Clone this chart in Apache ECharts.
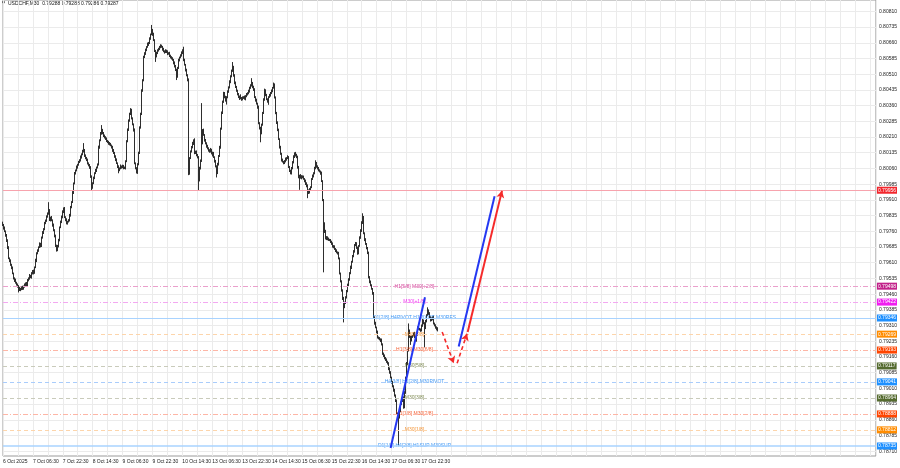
<!DOCTYPE html>
<html><head><meta charset="utf-8">
<script src="https://cdn.jsdelivr.net/npm/echarts@6/dist/echarts.min.js"></script>
<style>html,body{margin:0;padding:0;background:#fff}#c{width:900px;height:468px}</style>
</head><body><div id="c"></div>
<script>
const chartTitle = 'USDCHF,M30  0.79288 0.79288 0.79286 0.79287';
const timeLabels = ['6 Oct 2025','7 Oct 06:30','7 Oct 22:30','8 Oct 14:30','9 Oct 06:30','9 Oct 22:30','10 Oct 14:30','13 Oct 06:30','13 Oct 22:30','14 Oct 14:30','15 Oct 06:30','15 Oct 22:30','16 Oct 14:30','17 Oct 06:30','17 Oct 22:30'];
const priceTicks = [0.80810,0.80735,0.80660,0.80585,0.80510,0.80435,0.80360,0.80285,0.80210,0.80135,0.80060,0.79985,0.79910,0.79835,0.79760,0.79685,0.79610,0.79535,0.79460,0.79385,0.79310,0.79235,0.79160,0.79085,0.79010,0.78935,0.78860,0.78785,0.78710];

// M30 closes in 1e-5 units
const firstOpen = 79800;
const closes = [
79790,79775,79760,79740,79717,79680,79631,79620,79600,79585,
79559,79548,79535,79526,79515,79505,79498,79488,79480,79486,
79492,79485,79497,79505,79511,79502,79518,79526,79535,79548,
79540,79559,79570,79562,79588,79620,79655,79668,79684,79700,
79690,79712,79731,79755,79770,79798,79812,79830,79845,79860,
79813,79825,79813,79790,79765,79735,79703,79690,79669,79690,
79717,79779,79805,79830,79852,79870,79827,79815,79798,79806,
79813,79835,79852,79875,79899,79945,79989,80037,80050,80066,
80078,80090,80099,80115,80128,80140,80147,80135,80120,80110,
80099,80085,80075,80066,80020,79970,79990,80015,80037,80050,
80065,80078,80085,80162,80195,80225,80243,80230,80215,80209,
80200,80192,80186,80181,80175,80170,80162,80152,80145,80133,
80118,80100,80085,80068,80052,80060,80070,80066,80072,80062,
80061,80095,80133,80190,80243,80290,80320,80338,80300,80270,
80243,80085,80060,80042,80080,80133,80257,80320,80386,80430,
80482,80592,80610,80625,80640,80652,80659,80680,80700,80721,
80700,80673,80620,80577,80595,80610,80625,80630,80640,80645,
80640,80628,80620,80616,80622,80615,80608,80611,80600,80596,
80592,80585,80578,80563,80550,80530,80500,80540,80577,80590,
80600,80611,80625,80635,80577,80555,80530,80505,80482,80037,
80110,80140,80162,80180,80195,80133,80140,80125,80120,80114,
80004,80060,80099,80180,80243,80220,80195,80180,80165,80155,
80147,80140,80150,80133,80125,80130,80114,80095,80070,80037,
80080,80120,80162,80250,80324,80380,80420,80400,80385,80372,
80400,80425,80448,80475,80500,80525,80544,80505,80467,80450,
80430,80415,80401,80395,80405,80396,80390,80398,80401,80392,
80405,80412,80420,80430,80445,80455,80467,80450,80435,80420,
80400,80385,80370,80353,80276,80250,80228,80270,80324,80390,
80434,80410,80390,80380,80372,80401,80410,80420,80430,80445,
80458,80400,80324,80280,80243,80200,80162,80130,80099,80092,
80088,80085,80095,80105,80110,80114,80066,80050,80037,80060,
80090,80115,80133,80125,80114,80090,80066,80018,80025,80015,
80022,80018,80010,80000,79989,79975,79956,79945,79960,79970,
79990,80010,80025,80037,80060,80085,80070,80060,80052,80045,
80037,80000,79908,79798,79760,79731,79725,79731,79722,79720,
79717,79710,79700,79690,79684,79675,79668,79660,79655,79630,
79600,79559,79520,79478,79440,79397,79420,79444,79475,79502,
79530,79560,79588,79615,79640,79665,79684,79695,79703,79680,
79655,79690,79730,79765,79800,79827,79750,79720,79700,79680,
79655,79600,79540,79520,79500,79485,79464,79349,79320,79301,
79280,79253,79248,79245,79239,79220,79200,79177,79165,79155,
79145,79138,79129,79105,79085,79062,79040,79020,79000,78975,
78952,78920,78890,78880,78871,78900,78938,78950,78967,78919,
78990,79062,79130,79191,79287,79255,79225,79240,79255,79265,
79272,79255,79239,79270,79301,79295,79290,79287,79310,79335,
79320,79301,79301,79330,79360,79382,79368,79350,79335,79342,
79349,79320,79310,79301,79295,79287];
const upperWick = [
6,5,8,4,7,5,9,4,6,5, 7,4,6,5,8,4,6,5,7,4, 5,8,4,6,5,7,4,6,5,8, 4,6,5,7,4,9,5,6,4,7,
5,8,4,6,5,7,4,6,5,39, 6,5,8,4,7,5,9,4,6,5, 7,4,6,5,8,4,6,5,7,4, 5,8,4,6,5,7,4,6,5,8,
4,6,5,7,4,9,34,6,4,7, 5,8,4,6,5,7,4,6,5,8, 4,6,5,7,4,9,24,6,4,7, 5,8,4,6,5,7,4,6,5,8,
6,5,8,4,7,5,9,4,6,5, 7,4,6,5,8,4,6,10,7,4, 5,8,4,6,5,7,4,6,5,8, 4,6,5,7,4,9,5,6,4,24,
5,8,4,6,5,7,4,6,5,8, 6,5,8,4,7,5,9,4,6,5, 7,4,6,5,8,4,6,5,7,4, 5,8,4,6,5,7,4,6,5,8,
4,6,5,7,4,9,5,6,4,7, 5,8,4,192,5,7,4,6,5,8, 6,5,8,4,7,5,9,4,6,5, 7,4,6,5,8,4,6,5,7,4,
5,8,4,6,5,7,24,6,5,8, 4,6,5,7,4,9,5,6,4,7, 5,8,4,6,5,7,24,6,5,8, 6,5,8,4,7,5,9,4,6,5,
7,4,6,5,8,4,6,5,7,4, 12,8,4,6,5,7,4,6,5,8, 4,6,5,7,4,9,5,6,4,7, 5,8,4,6,5,7,4,6,5,8,
6,5,8,4,7,5,9,4,6,5, 7,4,6,5,8,14,6,5,7,4, 5,8,4,6,5,7,4,6,5,8, 4,6,5,7,4,9,5,6,4,7,
5,8,4,6,5,7,4,6,5,8, 6,5,8,4,7,5,9,4,6,5, 7,4,6,5,8,19,6,5,7,4, 5,8,4,6,5,7,4,6,5,8,
4,6,5,7,4,9,5,6,4,7, 5,8,4,6,5,7,4,6,5,8, 6,5,8,4,7,5,9,4,6,5, 7,4,6,5,33,4,6,5,7,4,
5,8,4,6,5,7,4,6,5,8, 4,6,5,7,4,15,5,6,4,7, 5,8,4,6,5,7];
const lowerWick = [
5,7,4,6,8,5,4,7,5,6, 4,6,5,8,5,4,7,20,5,6, 7,5,4,6,8,5,4,7,5,6, 4,6,5,8,5,4,7,5,6,4,
7,5,4,6,8,5,4,7,5,6, 4,6,5,8,5,4,7,5,6,4, 7,5,4,6,8,5,4,7,5,6, 4,6,5,8,5,4,7,5,6,4,
7,5,4,6,8,5,4,7,5,6, 4,6,5,8,5,14,7,5,6,4, 7,5,4,6,8,5,4,7,5,6, 4,6,5,8,5,4,7,5,6,4,
7,5,4,6,15,5,4,7,5,6, 4,6,5,8,5,4,7,5,6,4, 7,5,4,6,8,5,4,7,5,6, 4,6,5,8,5,4,7,5,6,4,
7,5,4,6,8,5,4,7,5,6, 4,6,5,8,5,4,7,5,6,4, 7,5,4,6,8,5,18,7,5,6, 4,6,5,8,5,4,7,5,6,9,
7,5,4,6,8,5,4,7,5,6, 48,6,5,8,5,4,7,5,6,4, 7,5,4,6,8,5,4,7,5,20, 4,6,5,8,5,4,7,5,6,4,
7,5,4,6,8,5,4,7,5,6, 4,6,5,8,5,4,7,5,6,4, 7,5,4,6,8,5,4,7,5,6, 4,6,5,8,5,4,43,5,6,4,
7,5,4,6,8,5,4,7,5,6, 4,6,5,8,5,4,7,5,6,4, 7,5,4,6,8,5,4,7,5,6, 4,6,5,8,5,4,7,5,60,4,
7,5,4,6,8,5,38,7,5,6, 4,6,5,8,5,4,7,5,6,4, 7,5,4,234,8,5,4,7,5,6, 4,6,5,8,5,4,7,5,6,4,
7,5,4,6,8,72,4,7,5,6, 4,6,5,8,5,4,7,5,6,4, 7,5,4,6,8,5,4,7,5,6, 4,6,5,8,5,4,7,5,6,4,
7,5,4,6,8,5,4,7,5,6, 4,6,5,8,5,4,7,5,6,4, 7,5,4,6,134,5,4,7,5,6, 4,6,5,8,5,4,7,5,6,4,
7,5,4,6,8,5,4,7,5,6, 4,95,5,8,5,4,7,5,6,4, 7,5,4,6,8,5];

const levelPrices = [0.79956,0.79498,0.79422,0.79346,0.79269,0.79193,0.79117,0.79041,0.78964,0.78888,0.78812,0.78735];
const levelNames = ['','H1[5/8] M30[+2/8]','M30[+1/8]','D1[2/8] H4PIVOT H1PIVOT M30RES','M30[7/8]','H1[3/8] M30[6/8]','M30[5/8]','H4[3/8] H1[2/8] M30PIVOT','M30[3/8]','H1[1/8] M30[2/8]','M30[1/8]','D1[1/8] H4[2/8] H1SUP M30SUP'];
const lastPrice = 0.79287;
const levelTextBar = 440.5;
// drawn trend / projection lines: [barIndex, price]
const trendUp = [[414.9,0.78725],[451.7,0.79445]];
const projDown = [[470.1,0.79279],[482.5,0.79130]];
const projUp = [[486.1,0.79130],[496.7,0.79271]];
const projBlue = [[487.8,0.79210],[526.2,0.79927]];
const projRed = [[497.4,0.79279],[534.1,0.79953]];

// styles
const FONT = 'Liberation Sans, Arial, sans-serif';
const FS = 5;
const boxColors = ['#f2262c','#c2228a','#f01ef0','#1e90ff','#ff8c00','#ff4500','#556b2f','#1e90ff','#556b2f','#ff4500','#ff8c00','#1e90ff'];
const lineColors = ['#f7a3ad','#eaa0cc','#f3a8f1','#a9d3ff','#fdd5ab','#fdb6a6','#c9cbbb','#a9ccfb','#c9cbbb','#fdb6a6','#fdd5ab','#a9d3ff'];
const lineTypes = ['solid',[5,2,1,2],[5,2,1,2],'solid',[4,3],[5,2,1,2],[4,3],[4,3],[4,3],[5,2,1,2],[4,3],'solid'];
const lineWidths = [1,1,1,1,1,1,1,1,1,1,1,1.5];
const textColors = ['','#c8157f','#f000f0','#1580f0','#f07800','#f03800','#5a6a20','#1580f0','#5a6a20','#f03800','#f07800','#1580f0'];

const candles = closes.map((c,i)=>{
  const o = i===0 ? firstOpen : closes[i-1];
  const h = Math.max(o,c) + upperWick[i];
  const l = Math.min(o,c) - lowerWick[i];
  return [i, o/1e5, c/1e5, l/1e5, h/1e5];
});

const levelLines = levelPrices.map((p,k)=>({
  yAxis: p,
  lineStyle: {color: lineColors[k], type: lineTypes[k], width: lineWidths[k]},
  label: {show: true, position: 'end', distance: 1, formatter: p.toFixed(5), backgroundColor: boxColors[k], color: '#fff', fontSize: FS, fontFamily: FONT, padding: [1,1,0,1], lineHeight: 6}
}));
levelLines.push({
  yAxis: lastPrice,
  lineStyle: {opacity: 0},
  label: {show: true, position: 'end', distance: 1, formatter: lastPrice.toFixed(5), backgroundColor: '#000', color: '#fff', fontSize: FS, fontFamily: FONT, padding: [1,1,0,1], lineHeight: 6}
});

function seg(pts, color, width, type, arrowEnd) {
  const ls = {color: color, width: width, type: type};
  return [
    {coord: pts[0], symbol: 'none', lineStyle: ls},
    {coord: pts[1], symbol: arrowEnd ? 'arrow' : 'none', symbolSize: [6,7], lineStyle: ls, itemStyle: {color: color}}
  ];
}

const option = {
  animation: false,
  backgroundColor: '#fff',
  grid: {left: 1, right: 23, top: 0, bottom: 12, show: true, borderColor: '#9a9a9a', borderWidth: 1},
  xAxis: {
    type: 'value', min: 0, max: 934.4, interval: 16,
    axisLine: {show: false}, axisTick: {show: false},
    splitLine: {show: true, lineStyle: {color: '#ebebeb', width: 1}},
    axisLabel: {
      show: true, margin: 3, align: 'left', fontSize: FS, fontFamily: FONT, color: '#222',
      formatter: v => (v % 32 === 0 && timeLabels[v/32]) ? timeLabels[v/32] : ''
    }
  },
  yAxis: {
    type: 'value', position: 'right', min: 0.786872, max: 0.808642, scale: true,
    axisLine: {show: false},
    axisTick: {show: false, customValues: priceTicks},
    splitLine: {show: true, lineStyle: {color: '#ebebeb', width: 1}},
    axisLabel: {show: true, customValues: priceTicks, margin: 3, fontSize: FS, fontFamily: FONT, color: '#222', formatter: v => v.toFixed(5)}
  },
  graphic: [
    {type: 'text', left: 2, top: 1, style: {text: '▼', fontSize: 4, fill: '#111', fontFamily: 'DejaVu Sans'}},
    {type: 'text', left: 8, top: 1.5, style: {text: chartTitle, fontSize: FS, fill: '#111', fontFamily: FONT}}
  ],
  series: [
    {
      type: 'line', data: [], z: 2, silent: true,
      markLine: {silent: true, symbol: 'none', animation: false, precision: 6, data: levelLines}
    },
    {
      type: 'candlestick', z: 3, data: candles, barWidth: 1.3,
      itemStyle: {color: '#111', color0: '#111', borderColor: '#2e2e2e', borderColor0: '#2e2e2e', borderWidth: 1}
    },
    {
      type: 'scatter', z: 4, symbolSize: 0, silent: true,
      data: levelPrices.map((p,k)=>({name: levelNames[k], value: [levelTextBar, p], label: {color: textColors[k]}})).filter(d=>d.name),
      label: {show: true, position: 'inside', formatter: '{b}', fontSize: FS, fontFamily: FONT}
    },
    {
      type: 'line', data: [], z: 5, silent: true,
      markLine: {silent: true, animation: false, precision: 6, label: {show: false}, symbol: 'none',
        data: [
          seg(trendUp, '#2438f2', 2, 'solid', false),
          seg(projDown, '#f52a2a', 1.6, [4,3], true),
          seg(projUp, '#f52a2a', 1.6, [4,3], true),
          seg(projBlue, '#2438f2', 2, 'solid', false),
          seg(projRed, '#f52a2a', 2, 'solid', true)
        ]}
    }
  ]
};
const chart = echarts.init(document.getElementById('c'));
chart.setOption(option);
</script>
</body></html>
